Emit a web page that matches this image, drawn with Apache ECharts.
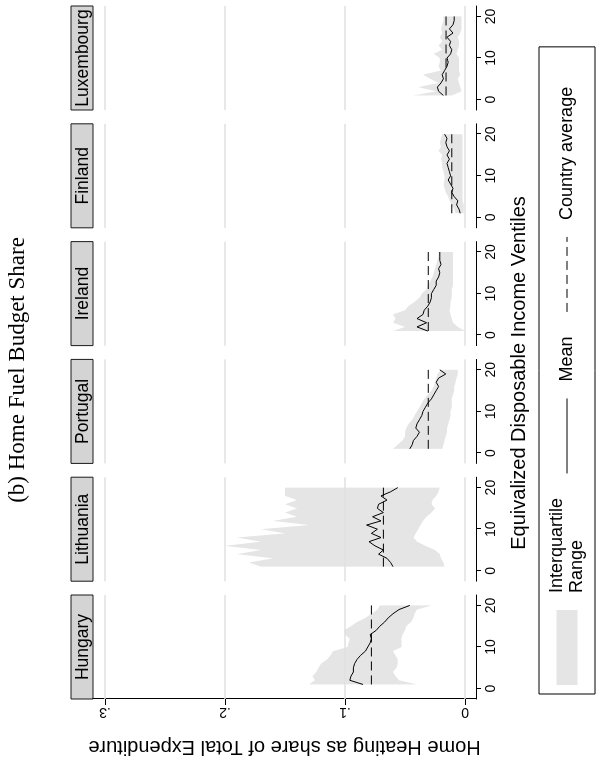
<!DOCTYPE html>
<html>
<head>
<meta charset="utf-8">
<script src="https://cdn.jsdelivr.net/npm/echarts@6.0.0/dist/echarts.min.js"></script>
<style>
  html, body { margin: 0; padding: 0; background: #fff; overflow: hidden; width: 597px; height: 761px; }
  /* the figure is laid out landscape and turned a quarter turn counter-clockwise */
  #stage { position: absolute; left: 0; top: 0; width: 761px; height: 597px;
           transform-origin: 0 0; transform: translate(0, 761px) rotate(-90deg); }
</style>
</head>
<body>
<div id="stage"></div>
<script>
// ---- data -------------------------------------------------------------
const countries = ['Hungary', 'Lithuania', 'Portugal', 'Ireland', 'Finland', 'Luxembourg'];
const ventiles = [1, 2, 3, 4, 5, 6, 7, 8, 9, 10, 11, 12, 13, 14, 15, 16, 17, 18, 19, 20];
const ventileTicks = [0, 10, 20];
const shareTicks = [0, 0.1, 0.2, 0.3];
const shareTickLabels = ['0', '.1', '.2', '.3'];
const countryAverage = [0.078, 0.068, 0.0306, 0.0306, 0.011, 0.0158];

const hungaryMean = [0.085, 0.096, 0.095, 0.093, 0.093, 0.092, 0.090, 0.087, 0.083, 0.081, 0.079, 0.078, 0.079, 0.074, 0.071, 0.067, 0.064, 0.060, 0.055, 0.046];
const hungaryP25  = [0.040, 0.055, 0.058, 0.060, 0.057, 0.056, 0.056, 0.058, 0.060, 0.053, 0.053, 0.053, 0.052, 0.050, 0.049, 0.045, 0.043, 0.042, 0.040, 0.028];
const hungaryP75  = [0.130, 0.125, 0.127, 0.124, 0.122, 0.120, 0.115, 0.112, 0.110, 0.098, 0.097, 0.096, 0.100, 0.101, 0.095, 0.090, 0.083, 0.078, 0.073, 0.071];

const lithuaniaMean = [0.060, 0.062, 0.065, 0.072, 0.068, 0.075, 0.080, 0.070, 0.078, 0.073, 0.082, 0.070, 0.077, 0.068, 0.073, 0.072, 0.065, 0.070, 0.062, 0.056];
const lithuaniaP25  = [0.017, 0.018, 0.020, 0.021, 0.025, 0.033, 0.040, 0.043, 0.041, 0.039, 0.037, 0.035, 0.032, 0.028, 0.025, 0.028, 0.027, 0.024, 0.022, 0.021];
const lithuaniaP75  = [0.170, 0.180, 0.160, 0.190, 0.170, 0.200, 0.170, 0.190, 0.150, 0.170, 0.130, 0.160, 0.140, 0.150, 0.140, 0.150, 0.140, 0.150, 0.150, 0.150];

const portugalMean = [0.046, 0.044, 0.043, 0.040, 0.038, 0.041, 0.040, 0.038, 0.036, 0.035, 0.033, 0.031, 0.028, 0.026, 0.024, 0.022, 0.024, 0.022, 0.016, 0.021];
const portugalP25  = [0.019, 0.018, 0.017, 0.016, 0.015, 0.015, 0.014, 0.013, 0.012, 0.012, 0.011, 0.011, 0.011, 0.010, 0.009, 0.009, 0.008, 0.007, 0.006, 0.006];
const portugalP75  = [0.060, 0.056, 0.052, 0.050, 0.050, 0.049, 0.047, 0.044, 0.042, 0.040, 0.038, 0.036, 0.034, 0.031, 0.028, 0.026, 0.025, 0.024, 0.023, 0.020];

const irelandMean = [0.031, 0.040, 0.032, 0.040, 0.035, 0.034, 0.031, 0.029, 0.028, 0.028, 0.026, 0.024, 0.024, 0.022, 0.021, 0.022, 0.020, 0.021, 0.021, 0.021];
const irelandP25  = [0.000, 0.006, 0.010, 0.011, 0.012, 0.013, 0.012, 0.012, 0.011, 0.011, 0.011, 0.010, 0.010, 0.010, 0.010, 0.010, 0.010, 0.010, 0.010, 0.010];
const irelandP75  = [0.060, 0.050, 0.060, 0.058, 0.060, 0.050, 0.047, 0.042, 0.038, 0.036, 0.032, 0.031, 0.029, 0.027, 0.026, 0.025, 0.024, 0.023, 0.022, 0.022];

const finlandMean = [0.004, 0.005, 0.007, 0.006, 0.009, 0.011, 0.010, 0.012, 0.014, 0.012, 0.013, 0.014, 0.015, 0.013, 0.015, 0.013, 0.015, 0.016, 0.015, 0.017];
const finlandP25  = [0.001, 0.001, 0.001, 0.002, 0.002, 0.002, 0.002, 0.002, 0.002, 0.002, 0.002, 0.002, 0.002, 0.002, 0.002, 0.002, 0.002, 0.002, 0.002, 0.002];
const finlandP75  = [0.008, 0.009, 0.011, 0.013, 0.014, 0.016, 0.017, 0.018, 0.017, 0.017, 0.018, 0.019, 0.019, 0.020, 0.019, 0.022, 0.020, 0.021, 0.020, 0.019];

const luxembourgMean = [0.018, 0.022, 0.023, 0.020, 0.018, 0.019, 0.017, 0.015, 0.014, 0.015, 0.012, 0.011, 0.013, 0.012, 0.015, 0.010, 0.013, 0.010, 0.009, 0.009];
const luxembourgP25  = [0.011, 0.003, 0.004, 0.005, 0.006, 0.004, 0.005, 0.005, 0.005, 0.005, 0.007, 0.006, 0.005, 0.005, 0.006, 0.004, 0.003, 0.003, 0.003, 0.003];
const luxembourgP75  = [0.043, 0.024, 0.039, 0.022, 0.029, 0.035, 0.020, 0.022, 0.021, 0.021, 0.026, 0.019, 0.022, 0.019, 0.021, 0.019, 0.020, 0.019, 0.018, 0.018];

const meanSeries = [hungaryMean, lithuaniaMean, portugalMean, irelandMean, finlandMean, luxembourgMean];
const p25Series  = [hungaryP25, lithuaniaP25, portugalP25, irelandP25, finlandP25, luxembourgP25];
const p75Series  = [hungaryP75, lithuaniaP75, portugalP75, irelandP75, finlandP75, luxembourgP75];

// ---- layout (landscape coordinates) -----------------------------------
const FONT = '"Liberation Sans", Arial, Helvetica, sans-serif';
const panelLeft0 = 62, panelW = 104, panelPitch = 117.8;
const plotTop = 93, plotBottom = 476;
const stripTop = 71, stripH = 22;
const shareMin = -0.00917, shareMax = 0.31;
const ventMin = -2.5, ventMax = 22.5;
const bandColor = '#e5e5e5';
const gridColor = '#e0e0e0';

const chart = echarts.init(document.getElementById('stage'), null, { renderer: 'canvas' });

const grids = [], xAxes = [], yAxes = [], series = [], graphics = [];

countries.forEach((name, i) => {
  const left = panelLeft0 + i * panelPitch;
  grids.push({ left: left, top: plotTop, width: panelW, height: plotBottom - plotTop });

  xAxes.push({
    type: 'value', gridIndex: i, min: ventMin, max: ventMax,
    axisLine: { show: true, onZero: false, lineStyle: { color: '#000', width: 1 } },
    axisTick: { show: true, customValues: ventileTicks, length: 5, lineStyle: { color: '#000', width: 1 } },
    axisLabel: { show: true, customValues: ventileTicks, color: '#000', fontSize: 14, fontFamily: FONT, margin: 8 },
    splitLine: { show: false }
  });

  const first = i === 0;
  yAxes.push({
    type: 'value', gridIndex: i, min: shareMin, max: shareMax,
    show: first,
    name: first ? 'Home Heating as share of Total Expenditure' : '',
    nameLocation: 'middle', nameGap: 38,
    nameTextStyle: { color: '#000', fontSize: 20, fontFamily: FONT },
    axisLine: { show: first, onZero: false, lineStyle: { color: '#000', width: 1 } },
    axisTick: { show: first, customValues: shareTicks, length: 6, lineStyle: { color: '#000', width: 1 } },
    axisLabel: {
      show: first, customValues: shareTicks, rotate: 90, color: '#000', fontSize: 14, fontFamily: FONT, margin: 6,
      formatter: v => shareTickLabels[shareTicks.findIndex(t => Math.abs(t - v) < 1e-9)]
    },
    splitLine: { show: false }
  });

  // horizontal reference lines at the share ticks
  series.push({
    type: 'line', xAxisIndex: i, yAxisIndex: i, data: [], silent: true, z: 1,
    markLine: {
      silent: true, symbol: ['none', 'none'], label: { show: false },
      lineStyle: { color: gridColor, width: 1.6, type: 'solid' },
      emphasis: { disabled: true },
      data: shareTicks.map(t => ({ yAxis: t }))
    }
  });

  // interquartile band drawn as one polygon between the quartile curves
  const p25 = p25Series[i], p75 = p75Series[i];
  series.push({
    name: 'Interquartile Range',
    type: 'custom', xAxisIndex: i, yAxisIndex: i, z: 2, silent: true,
    itemStyle: { color: bandColor },
    data: ventiles.map((v, k) => [v, p25[k], p75[k]]),
    encode: { x: 0, y: [1, 2] },
    renderItem: (params, api) => {
      if (params.dataIndex !== 0) return null;
      const lower = [], upper = [];
      for (let k = 0; k < ventiles.length; k++) {
        lower.push(api.coord([ventiles[k], p25[k]]));
        upper.push(api.coord([ventiles[k], p75[k]]));
      }
      return { type: 'polygon', shape: { points: lower.concat(upper.reverse()) }, style: { fill: bandColor } };
    }
  });

  series.push({
    name: 'Country average',
    type: 'line', xAxisIndex: i, yAxisIndex: i, z: 3,
    symbol: 'none', silent: true,
    lineStyle: { color: '#000', width: 1, type: [9, 5] },
    itemStyle: { color: '#000' },
    data: [[ventiles[0], countryAverage[i]], [ventiles[ventiles.length - 1], countryAverage[i]]]
  });

  series.push({
    name: 'Mean',
    type: 'line', xAxisIndex: i, yAxisIndex: i, z: 4,
    symbol: 'none', silent: true,
    lineStyle: { color: '#000', width: 1 },
    itemStyle: { color: '#000' },
    data: ventiles.map((v, k) => [v, meanSeries[i][k]])
  });

  // panel strip with the country name
  graphics.push({
    type: 'rect', shape: { x: left, y: stripTop, width: panelW, height: stripH },
    style: { fill: '#d4d4d4', stroke: '#1a1a1a', lineWidth: 1 }, silent: true
  });
  graphics.push({
    type: 'text', x: left + panelW / 2, y: stripTop + stripH / 2 + 1,
    style: { text: name, font: '17.5px ' + FONT, fill: '#000', align: 'center', verticalAlign: 'middle' },
    silent: true
  });
});

graphics.push({
  type: 'text', x: 391, y: 18,
  style: { text: '(b) Home Fuel Budget Share', font: '23px "Liberation Serif", "DejaVu Serif", serif', fill: '#000', align: 'center', verticalAlign: 'middle' },
  silent: true
});
graphics.push({
  type: 'text', x: 388, y: 519,
  style: { text: 'Equivalized Disposable Income Ventiles', font: '20px ' + FONT, fill: '#000', align: 'center', verticalAlign: 'middle' },
  silent: true
});

chart.setOption({
  animation: false,
  backgroundColor: '#fff',
  grid: grids,
  xAxis: xAxes,
  yAxis: yAxes,
  series: series,
  graphic: graphics,
  legend: {
    left: 67, top: 539, orient: 'horizontal',
    backgroundColor: '#fff', borderColor: '#000', borderWidth: 1, borderRadius: 0,
    padding: [8, 40, 8, 9], itemGap: 24, itemWidth: 75, itemHeight: 21,
    selectedMode: false,
    textStyle: { color: '#000', fontSize: 18, fontFamily: FONT, lineHeight: 20, padding: [0, 0, 0, 12] },
    formatter: n => n === 'Interquartile Range' ? 'Interquartile\nRange' : n,
    data: [
      { name: 'Interquartile Range', icon: 'rect', itemStyle: { color: bandColor, borderWidth: 0 } },
      { name: 'Mean', itemStyle: { opacity: 0 }, lineStyle: { color: '#000', width: 1, type: 'solid' } },
      { name: 'Country average', itemStyle: { opacity: 0 }, lineStyle: { color: '#000', width: 1, type: [9, 5] } }
    ]
  }
});
</script>
</body>
</html>
